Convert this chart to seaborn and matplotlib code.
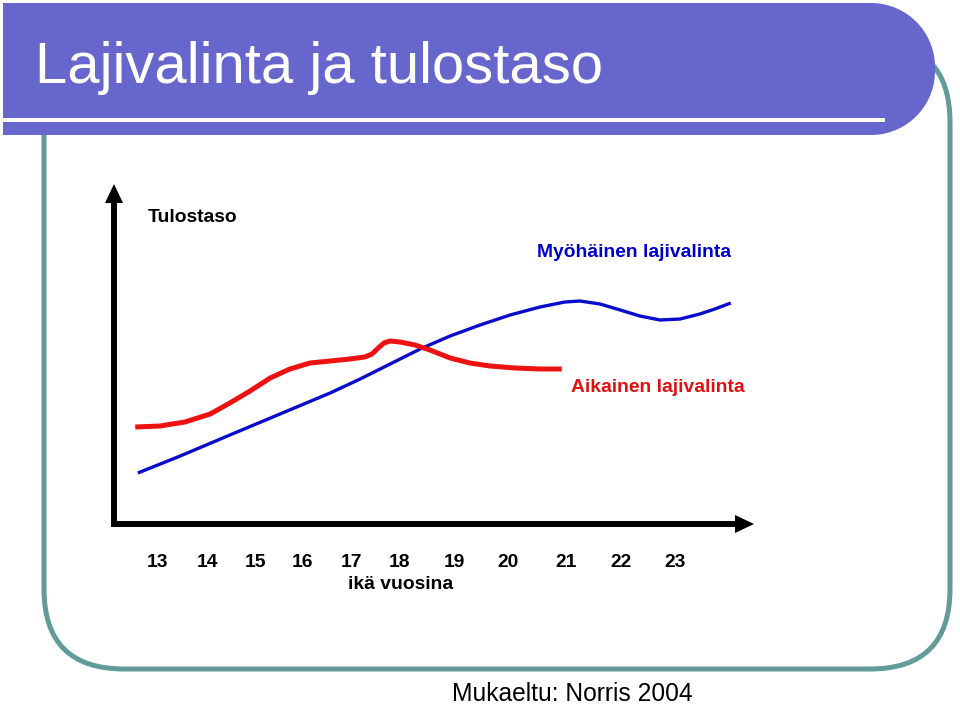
import numpy as np
import pandas as pd
import matplotlib
matplotlib.use("Agg")
import matplotlib.pyplot as plt
from matplotlib.patches import FancyBboxPatch, PathPatch, Rectangle
from matplotlib.path import Path
import seaborn as sns

# ---------------- data ----------------
title = "Lajivalinta ja tulostaso"
source = "Mukaeltu: Norris 2004"
y_title = "Tulostaso"
x_title = "ikä vuosina"
early_name = "Aikainen lajivalinta"
late_name = "Myöhäinen lajivalinta"

tick_labels = ["13", "14", "15", "16", "17", "18", "19", "20", "21", "22", "23"]
tick_pos = [13.0, 13.95, 14.88, 15.80, 16.75, 17.68, 18.74, 19.77, 20.89, 21.96, 23.0]

# early specialisation (red)
early_age = [12.56, 13.04, 13.52, 14.01, 14.39, 14.78, 15.17, 15.55, 15.94, 16.33,
             16.71, 17.00, 17.14, 17.26, 17.37, 17.49, 17.68, 17.97, 18.26, 18.65,
             19.03, 19.42, 19.91, 20.39, 20.81]
early_level = [9.5, 9.6, 10.0, 10.8, 11.9, 13.1, 14.4, 15.3, 15.9, 16.1,
               16.3, 16.5, 16.8, 17.4, 17.9, 18.1, 18.0, 17.7, 17.2, 16.4,
               15.9, 15.6, 15.4, 15.3, 15.3]

# late specialisation (blue)
late_age = [12.61, 13.43, 14.39, 15.36, 16.33, 16.91, 17.49, 18.07, 18.65, 19.23,
            19.81, 20.39, 20.87, 21.16, 21.55, 21.94, 22.32, 22.71, 23.10, 23.48,
            23.77, 24.08]
late_level = [4.9, 6.6, 8.7, 10.8, 12.9, 14.3, 15.8, 17.3, 18.6, 19.7,
              20.7, 21.5, 22.0, 22.1, 21.8, 21.2, 20.6, 20.2, 20.3, 20.8,
              21.3, 21.9]

# ---------------- style ----------------
sns.set_style("white")
plt.rcParams["font.family"] = ["Liberation Sans", "DejaVu Sans"]
plt.rcParams["text.color"] = "black"
plt.rcParams["xtick.color"] = "black"
plt.rcParams["axes.labelcolor"] = "black"

PURPLE = "#6666cc"
TEAL = "#629b97"
RED = "#ee1111"
BLUE = "#0a0ccc"
RED_TXT = "#e01010"
BLUE_TXT = "#0000cc"

W, H = 960, 707
fig = plt.figure(figsize=(W / 100, H / 100), dpi=100)
fig.patch.set_facecolor("white")

# background decoration axes (pixel units)
bg = fig.add_axes([0, 0, 1, 1], zorder=0)
bg.set_xlim(0, W)
bg.set_ylim(H, 0)
bg.axis("off")

# teal rounded frame
frame = FancyBboxPatch((44, 42), 906, 627, boxstyle="round,pad=0,rounding_size=80",
                       fill=False, ec=TEAL, lw=3.6)
bg.add_patch(frame)

# title bar with rounded right end
x0, x1, y0, y1, r = 3, 935, 3, 135, 64
t1 = np.linspace(np.pi / 2, 0, 30)
t2 = np.linspace(0, -np.pi / 2, 30)
cx = x1 - r
pts = [(x0, y0), (cx, y0)]
pts += [(cx + r * np.cos(t), (y0 + r) - r * np.sin(t)) for t in t1]
pts += [(cx + r * np.cos(t), (y1 - r) - r * np.sin(t)) for t in t2]
pts += [(x0, y1), (x0, y0)]
bar = PathPatch(Path(pts, closed=True), fc=PURPLE, ec="none", zorder=2)
bg.add_patch(bar)
bg.add_patch(Rectangle((3, 118), 882, 4, fc="white", ec="none", zorder=3))

bg.text(35, 83, title, color="white", fontsize=41.8, va="baseline", ha="left", zorder=4)
bg.text(452, 701, source, color="black", fontsize=17.7, va="baseline", ha="left", zorder=4)

# ---------------- chart axes ----------------
ax = fig.add_axes([114 / W, 1 - 524 / H, 640 / W, 340 / H], zorder=1)
ax.set_facecolor("none")
xlo, xhi = 12.149, 24.528
ylo, yhi = -0.2, 33.8
ax.set_xlim(xlo, xhi)
ax.set_ylim(ylo, yhi)

early = pd.DataFrame({"age": early_age, "level": early_level})
late = pd.DataFrame({"age": late_age, "level": late_level})
sns.lineplot(data=late, x="age", y="level", sort=False, color=BLUE, lw=2.4,
             ax=ax, solid_capstyle="butt", solid_joinstyle="round")
sns.lineplot(data=early, x="age", y="level", sort=False, color=RED, lw=3.6,
             ax=ax, solid_capstyle="butt", solid_joinstyle="round")

# axis lines with arrow heads
for s in ["top", "right"]:
    ax.spines[s].set_visible(False)
for s in ["left", "bottom"]:
    ax.spines[s].set_visible(True)
    ax.spines[s].set_color("black")
    ax.spines[s].set_linewidth(4.3)
    ax.spines[s].set_capstyle("projecting")
ax.spines["bottom"].set_bounds(xlo, xlo + 0.975 * (xhi - xlo))
ax.spines["left"].set_bounds(ylo, ylo + 0.95 * (yhi - ylo))
head = dict(arrowstyle="-|>,head_length=13.7,head_width=6.5", mutation_scale=1,
            lw=0, fc="black", ec="none", shrinkA=0, shrinkB=0)
ax.annotate("", xy=(1, 0), xytext=(0.9, 0), xycoords="axes fraction",
            textcoords="axes fraction", arrowprops=head, annotation_clip=False)
ax.annotate("", xy=(0, 1), xytext=(0, 0.85), xycoords="axes fraction",
            textcoords="axes fraction", arrowprops=head, annotation_clip=False)

ax.set_yticks([])
ax.set_xticks(tick_pos, labels=tick_labels)
ax.tick_params(axis="x", length=0, pad=21.5, labelsize=13.9, labelcolor="black")
for lab in ax.get_xticklabels():
    lab.set_fontweight("bold")
ax.set_ylabel("")
ax.set_xlabel(x_title, fontsize=13.9, fontweight="bold", color="black")
ax.xaxis.set_label_coords(0.448, -0.152)

ax.text(12.81, 30.4, y_title, fontsize=13.9, fontweight="bold", color="black",
        va="center", ha="left")
ax.text(20.33, 26.9, late_name, fontsize=13.9, fontweight="bold", color=BLUE_TXT,
        va="center", ha="left")
ax.text(20.99, 13.4, early_name, fontsize=13.9, fontweight="bold", color=RED_TXT,
        va="center", ha="left")

fig.savefig("out.png", dpi=100, facecolor="white")
